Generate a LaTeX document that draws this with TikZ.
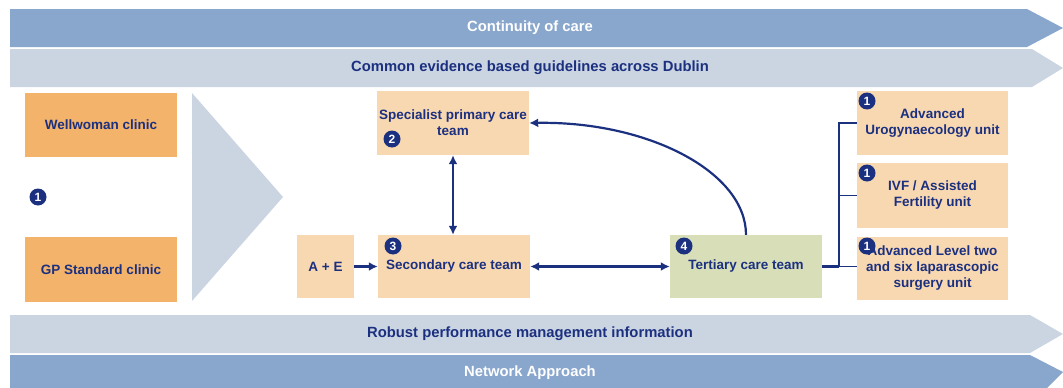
\documentclass[tikz,border=0pt]{standalone}
\usepackage{fontspec}
\setmainfont{Liberation Sans}
\usepackage{tikz}
\usetikzlibrary{arrows,arrows.meta,positioning}

\definecolor{navy}{RGB}{28,48,128}
\definecolor{banddark}{RGB}{137,166,204}
\definecolor{bandlight}{RGB}{203,213,226}
\definecolor{clinic}{RGB}{243,179,106}
\definecolor{peach}{RGB}{248,216,176}
\definecolor{tertgreen}{RGB}{216,223,184}
\newcommand{\boxfont}{\fontsize{13.5}{16}\selectfont\bfseries}
\newcommand{\bandfont}{\fontsize{14.8}{16}\selectfont\bfseries}
\newcommand{\badgefont}{\fontsize{12}{12}\selectfont\bfseries}

\begin{document}
\begin{tikzpicture}[x = 1pt, y = -1pt,
  >={Latex[length=9pt, width=9pt]},
  box/.style = {fill = peach, text = navy, font = \boxfont, align = center,
                inner sep = 0pt, minimum width = 152, minimum height = 64},
  badge/.style = {circle, fill = navy, text = white, font = \badgefont,
                  inner sep = 0pt, minimum size = 17},
  link/.style = {navy, line width = 2.2pt},
  branch/.style = {navy, line width = 1.4pt}]
\useasboundingbox (0, 0) rectangle (1063, 388);
%\draw [help lines, step = 50] (0, 0) grid (1063, 388);
% bands
\fill [banddark] (10, 9) -- (1027, 9) -- (1063, 28) -- (1027, 47) -- (10, 47) -- cycle;
\node [font = \bandfont, text = white] (care) at (530, 28) {Continuity of care};
\fill [bandlight] (10, 49) -- (1032, 49) -- (1063, 68) -- (1032, 87) -- (10, 87) -- cycle;
\node [font = \bandfont, text = navy] (guide) at (530, 68) {Common evidence based guidelines across Dublin};
\fill [bandlight] (10, 315) -- (1030, 315) -- (1063, 334) -- (1030, 353) -- (10, 353) -- cycle;
\node [font = \bandfont, text = navy] (robust) at (530, 334) {Robust performance management information};
\fill [banddark] (10, 355) -- (1030, 355) -- (1063, 372) -- (1047, 388) -- (10, 388) -- cycle;
\node [font = \bandfont, text = white] (network) at (530, 373) {Network Approach};
% clinics
\node [box, fill = clinic] (well) at (101, 125) {Wellwoman clinic};
\node [box, fill = clinic, minimum height = 65] (gp) at (101, 269.5) {GP Standard clinic};
\node [badge] (b1) at (38, 197) {1};
\fill [bandlight] (192, 93) -- (283, 197) -- (192, 301) -- cycle;
% teams
\node [box] (spec) at (453, 123) {Specialist primary care\\team};
\node [badge] (b2) at (392, 139) {2};
\node [box, minimum width = 57, minimum height = 63] (ae) at (325.5, 266.5) {A + E};
\node [box, minimum height = 63] (sec) at (454, 266.5) {Secondary care team};
\node [badge] (b3) at (393, 246) {3};
\node [box, fill = tertgreen, minimum height = 63] (tert) at (746, 266.5) {Tertiary care team};
\node [badge] (b4) at (684, 246) {4};
% units
\node [box, minimum width = 151] (uro) at (932.5, 123) {Advanced\\Urogynaecology unit};
\node [box, minimum width = 151, minimum height = 65] (ivf) at (932.5, 195.5) {IVF / Assisted\\Fertility unit};
\node [box, minimum width = 151, minimum height = 63] (lap) at (932.5, 268) {Advanced Level two\\and six laparascopic\\surgery unit};
\node [badge] (b5) at (867, 101) {1};
\node [badge] (b6) at (867, 173) {1};
\node [badge] (b7) at (867, 246) {1};
% connectors
\draw [link, ->] (ae) -- (sec);
\draw [link, <->] (spec.south) -- (spec.south |- sec.north);
\draw [link, <->] (sec) -- (tert);
\draw [link, ->] (tert.north) .. controls (746, 172) and (648, 121) .. (spec.east);
\coordinate (fork) at (839, 266.5);
\draw [link] (tert.east) -- (fork);
\draw [branch] (fork) -- (fork -| lap.west);
\draw [branch] (fork) |- (uro.west);
\draw [branch] (fork) |- (ivf.west);
\end{tikzpicture}
\end{document}
